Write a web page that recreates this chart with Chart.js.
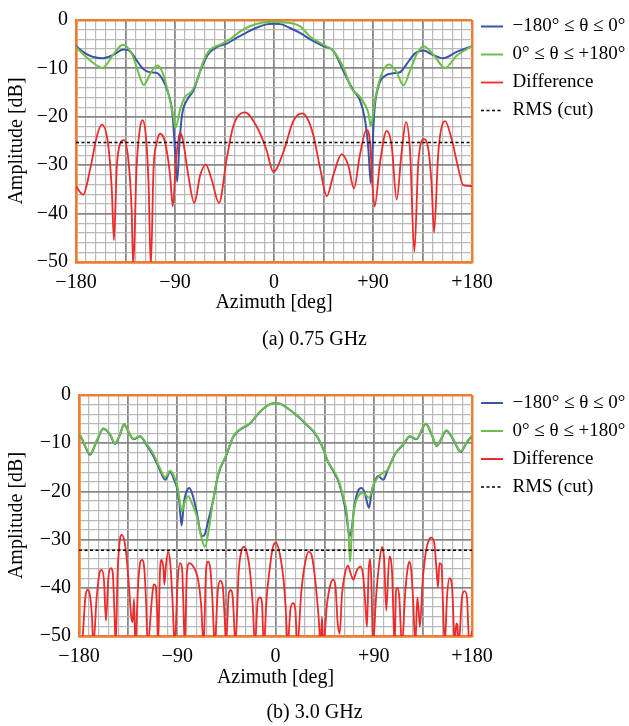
<!DOCTYPE html>
<html lang="en">
<head>
<meta charset="utf-8">
<title>Azimuth cuts</title>
<script src="https://cdn.jsdelivr.net/npm/chart.js@4.4.1/dist/chart.umd.min.js"></script>
<style>
  html, body { margin: 0; padding: 0; background: #ffffff; }
  #figure { position: relative; width: 629px; height: 726px; overflow: hidden; background: #ffffff; }
  #figure canvas { position: absolute; left: 0; }
</style>
</head>
<body>
<div id="figure">
  <canvas id="cut075" width="629" height="355" style="top:0px"></canvas>
  <canvas id="cut300" width="629" height="351" style="top:375px"></canvas>
</div>
<script>
// ---------- labels ----------
const seriesNames = ['−180° ≤ θ ≤ 0°', '0° ≤ θ ≤ +180°', 'Difference', 'RMS (cut)'];
const xTickValues = [-180, -90, 0, 90, 180];
const xTickText = ['−180', '−90', '0', '+90', '+180'];
const yTickValues = [0, -10, -20, -30, -40, -50];
const yTickText = ['0', '−10', '−20', '−30', '−40', '−50'];
const captions = ['(a) 0.75 GHz', '(b) 3.0 GHz'];

// ---------- 0.75 GHz cut: [azimuth deg, amplitude dB] ----------
const neg075 = [[-180,-5.4],[-173,-6.7],[-165,-7.6],[-156,-7.9],[-146,-7.2],[-137,-6.1],[-131,-6.4],[-125,-8.3],
  [-119,-10.1],[-113,-10.8],[-107,-10.9],[-101,-12.4],[-96,-15.2],[-92.5,-19],[-90.5,-25],[-88,-33.4],[-86,-25.5],
  [-83.5,-19.5],[-79,-16.5],[-73,-14.5],[-67,-10.5],[-60,-7.1],[-52,-5.6],[-43,-4.9],[-34,-3.7],[-25,-2.6],[-16,-1.6],
  [-7,-0.9],[0,-0.75],[7,-0.9],[15,-1.7],[24,-2.7],[33,-4.0],[45,-5.4],[54,-6.4],[63,-10.5],[72,-14.5],[78,-16.5],
  [82.7,-20.6],[85.8,-26.7],[88,-33.7],[89.5,-27],[91,-19.5],[94.8,-13.8],[101,-11.5],[108.5,-11],[114.5,-10.8],
  [120.6,-9.1],[128.2,-6.9],[135.8,-6.3],[143.3,-7.1],[153.9,-7.9],[166,-6.6],[180,-5.4]];
const pos075 = [[-180,-5.6],[-170,-7.8],[-161,-9.4],[-156,-9.9],[-146,-7.1],[-137.5,-5.1],[-129,-7.1],[-123,-11.1],
  [-118.5,-13.4],[-111,-10.5],[-105.5,-9.4],[-101,-11.1],[-96,-15.2],[-91.5,-19.9],[-89.5,-22.3],[-85.5,-18.6],
  [-81,-15.9],[-75,-14.8],[-70,-12.5],[-64,-8.4],[-58,-6.1],[-49,-5.1],[-40,-4],[-31,-2.4],[-22,-1.3],[-10,-0.5],
  [0,-0.35],[10,-0.5],[23.6,-1.3],[32.7,-3.4],[44.8,-5.1],[54,-6.4],[63,-9.8],[70.6,-14.2],[76.7,-15.5],[81.2,-16.9],
  [85.8,-19.2],[88,-21.9],[91.8,-16.5],[97.9,-11.1],[104.8,-9.2],[111.5,-10.8],[117.6,-13.5],[123.6,-10.5],
  [129.7,-7.1],[135.8,-5.4],[144.8,-7.1],[155.5,-9.9],[166,-7.4],[180,-5.4]];
const diff075 = [[-180,-34.4],[-173.5,-36.1],[-167,-30.7],[-161,-24],[-156.5,-21.6],[-151,-25.3],[-147.5,-34.8],
  [-145.5,-45.5],[-143,-30.7],[-140,-25.6],[-136.5,-24.8],[-132.5,-28.7],[-129.5,-38.8],[-128,-51],[-125,-30.7],
  [-122,-22.6],[-119.5,-20.7],[-116.5,-24],[-114,-34.1],[-112,-51],[-109.5,-30.7],[-106.5,-25.3],[-103.5,-23.5],
  [-99,-25.3],[-94.5,-32],[-92,-38.5],[-89,-28.7],[-85.5,-23.3],[-83,-24.6],[-78,-32],[-72.5,-37.8],[-67,-32],
  [-62,-29.9],[-57,-32.7],[-50,-37.8],[-43,-28.7],[-37,-21.9],[-26.5,-19.1],[-16,-21.9],[-7,-26.7],[-0.5,-31.4],
  [8.5,-27.3],[17.5,-20.9],[25.5,-19.3],[30,-20.2],[36,-24],[42,-30.7],[48,-36.4],[54,-32],[61.5,-27.7],[67.5,-30],
  [72.7,-34.8],[78,-28],[84,-22.7],[87.3,-25.3],[89.7,-34.8],[91.5,-38.5],[96.4,-29.4],[102.4,-22.9],[107,-26],
  [111.5,-37.1],[116,-27.3],[120,-21.1],[123.6,-26.7],[127.6,-47.9],[131.2,-29.4],[136.4,-24.6],[140.3,-26.7],
  [143.3,-34.1],[145.5,-43.9],[149.4,-27.3],[155.5,-20.9],[161.5,-24.6],[167.6,-30.7],[172,-34.1],[180,-34.3]];
const rms075 = [[-180,-25.3],[180,-25.3]];

// ---------- 3.0 GHz cut: [azimuth deg, amplitude dB] ----------
const neg300 = [[-180,-8.4],[-178.5,-8.6],[-174.5,-10.6],[-170,-12.4],[-163.8,-9.6],[-157.7,-7.0],[-151.6,-8.2],
  [-147,-10.1],[-142.4,-8.2],[-138.8,-6.1],[-134.8,-7.6],[-130.2,-9.2],[-124.1,-8.6],[-118,-10.4],[-112,-12.6],
  [-105.8,-15.6],[-101.2,-17.6],[-96.5,-16],[-93,-17.5],[-90,-19.5],[-88,-22.5],[-86,-27.1],[-84,-22.5],[-81.5,-20],
  [-79,-19.3],[-76,-20.7],[-72,-24.5],[-69,-28.3],[-67.3,-29.3],[-65,-29],[-61.5,-26],[-57,-21.7],[-52.4,-16.5],
  [-44.7,-12.3],[-38.6,-8.6],[-32.5,-7.2],[-23.3,-5.9],[-14.2,-3.5],[-5,-1.9],[0.5,-1.7],[5,-1.9],[12,-2.9],
  [22.4,-4.8],[28.5,-6.2],[36,-7.9],[42,-10.3],[48.4,-14],[53,-15.8],[57.6,-17.9],[62,-21.5],[65,-25],[67,-28.5],
  [68.5,-29.2],[70,-27.5],[72,-23.5],[75.8,-19.8],[78.9,-19.3],[82,-20.5],[85.6,-23.4],[88,-20.3],[90.2,-18.4],
  [94,-16.8],[98.7,-17.6],[102.4,-15.8],[109.4,-12.3],[117,-10.3],[123,-8.6],[129,-9.2],[137.7,-6.0],[143,-8.2],
  [147.5,-10.6],[156.6,-7.4],[162.7,-9.2],[169.7,-11.8],[175,-9.9],[180,-8.5]];
const pos300 = [[-180,-8.3],[-178.5,-8.5],[-174.5,-10.5],[-170,-12.2],[-163.8,-9.5],[-157.7,-6.9],[-151.6,-8.1],
  [-147,-10],[-142.4,-8.1],[-138.8,-6.0],[-134.8,-7.5],[-130.2,-9.1],[-124.1,-8.5],[-118,-10.2],[-112,-12.2],
  [-105.8,-15.2],[-101.2,-17.1],[-96.5,-15.7],[-93,-16.8],[-90,-18.8],[-88,-21.5],[-86,-24.1],[-83,-22.2],[-80,-21],
  [-76.5,-22.5],[-72.2,-25.1],[-67.6,-29.8],[-64.6,-31.5],[-61.5,-28.5],[-57,-21.7],[-52.4,-16.3],[-44.7,-12.2],
  [-38.6,-8.5],[-32.5,-7.1],[-23.3,-5.8],[-14.2,-3.4],[-5,-1.9],[0.5,-1.7],[5,-1.9],[12,-2.9],[22.4,-4.7],
  [28.5,-6.1],[36,-7.8],[42,-10.2],[48.4,-13.9],[53,-15.6],[57.6,-17.6],[62,-21],[65.2,-24.4],[67,-29],[68.3,-34.6],
  [69.8,-29],[71.5,-24.5],[75.8,-21],[80.4,-20.3],[85.6,-21.3],[90.2,-18.3],[97.2,-16.3],[102.4,-15.6],[109.4,-12.2],
  [117,-10.2],[123,-8.5],[129,-9.1],[137.7,-5.9],[143,-8.1],[147.5,-10.5],[156.6,-7.3],[162.7,-9.1],[169.7,-11.7],
  [175,-9.8],[180,-8.4]];
const diff300 = [[-180,-56],[-176.6,-50],[-174.2,-42],[-172.1,-40.4],[-169.9,-41.7],[-168.1,-46.1],[-166.9,-52],
  [-163.8,-42],[-160.8,-36.6],[-159.2,-36.3],[-157.1,-38.6],[-155.3,-46.8],[-153.1,-37.9],[-151,-35.9],[-149.2,-36.6],
  [-147.6,-44.7],[-146.4,-52],[-144.6,-36.6],[-142.4,-29.8],[-140.9,-29],[-138.5,-30.2],[-136.3,-33.9],[-133.9,-40.7],
  [-132.1,-46.1],[-130.8,-47.1],[-129.6,-42.3],[-128.4,-52],[-126,-40],[-123.8,-34.6],[-122.3,-34.2],[-120.2,-36],
  [-118.6,-42.7],[-117.1,-52],[-113.1,-42],[-111.6,-39.3],[-109.8,-39.6],[-108.5,-44.7],[-107.6,-52],[-105.8,-36.6],
  [-104.3,-34.2],[-102.7,-35.9],[-101.8,-39.3],[-100.3,-35.2],[-98.2,-32.5],[-96.3,-35.2],[-94.2,-43.3],[-92.4,-52],
  [-89.6,-38.6],[-87.5,-34.9],[-85.6,-36],[-84.4,-43.3],[-83.2,-52],[-81.1,-36.6],[-78.9,-34.9],[-75.3,-35.6],
  [-71.3,-37.9],[-68.2,-43.3],[-65.8,-52],[-63.7,-36.6],[-61.8,-34.6],[-59.7,-36],[-57.6,-43.3],[-55.7,-52],
  [-52.9,-40.7],[-50.5,-38.5],[-48.4,-39.6],[-46.6,-46.1],[-45.3,-52],[-42.9,-41.4],[-41.1,-40.5],[-39.2,-42],
  [-38,-46.8],[-36.8,-52],[-33.7,-36.6],[-31,-32.2],[-29.2,-31.5],[-26.4,-32.5],[-23.4,-36.6],[-20.9,-43.3],
  [-18.8,-52],[-16.3,-42.7],[-13.9,-42],[-12.4,-43],[-10.8,-52],[-8.1,-42],[-5.6,-36.6],[-2.6,-31.8],[0.5,-30.6],
  [4.4,-33.5],[7.5,-38.6],[9.6,-45.4],[11.1,-52],[13.6,-44.7],[16,-43.2],[18.2,-44.7],[20,-52],[23.7,-40.7],
  [27.3,-34.6],[30.4,-32.5],[33.4,-33.5],[36.5,-38.6],[39.5,-46.1],[41.4,-52],[42.6,-46.1],[43.8,-52],[47.2,-43.4],
  [50.2,-39.4],[52.7,-38.3],[54.8,-39.4],[57,-47.4],[58.8,-49.5],[60.9,-41.4],[63.4,-37.3],[66.4,-35.4],[69.2,-37.3],
  [71.3,-38.3],[74.1,-36.6],[77.7,-35.6],[80.2,-37.3],[82.3,-43.3],[83.8,-48.1],[85.3,-36.6],[86.6,-34],[87.8,-38.6],
  [89.3,-52],[92.1,-42],[95,-35],[97.6,-31.5],[99.5,-34],[101.5,-44.7],[104.3,-33.5],[106.7,-36.6],[109.2,-52],
  [110.4,-40.7],[111.9,-40],[113.4,-42],[115.8,-52],[118.9,-40.7],[121,-36],[122.6,-34.6],[124.4,-36.6],[126.2,-43.3],
  [128.1,-52],[129.9,-42],[131.1,-44.7],[132.3,-48.1],[134.8,-38.6],[137.3,-33.2],[140.3,-30.2],[142.8,-29.6],
  [145.5,-30.8],[147.6,-36.6],[148.9,-39.9],[150.1,-34.9],[152,-35.2],[153.4,-43.3],[155,-52],[157.1,-42],[159.3,-38],
  [161.7,-39.7],[163.2,-47.4],[164.1,-52],[165.6,-47.4],[166.5,-47.6],[167.8,-52],[170.8,-42],[173.2,-40.7],
  [175.4,-42],[177.5,-52],[180,-49]];
const rms300 = [[-180,-32.2],[180,-32.2]];

// ---------- styling ----------
const FONT = 'Liberation Serif';
const ORANGE = '#ed7d31';
const MAJOR = '#888888';
const MINOR = '#b9b9b9';
const seriesColors = ['#3a55a5', '#6cc04a', '#ee2a2a', '#000000'];

function tickLabel(value, values, texts) {
  const i = values.indexOf(Math.round(value));
  return i >= 0 ? texts[i] : '';
}
function gridKind(value, majorStep, edges) {
  const v = Math.round(value * 1000) / 1000;
  if (edges.includes(v)) return 'edge';
  if (v % majorStep === 0) return 'major';
  return 'minor';
}
const kindColor = { edge: ORANGE, major: MAJOR, minor: MINOR };
const kindWidth = { edge: 2.5, major: 1.8, minor: 1.2 };
const toPoints = arr => arr.map(([x, y]) => ({ x, y }));

// legend entries keep each dataset's dash pattern on the short line sample
function legendItems(chart) {
  return Chart.defaults.plugins.legend.labels.generateLabels(chart).map(item => {
    const ds = chart.data.datasets[item.datasetIndex];
    return Object.assign(item, { lineDash: ds.borderDash || [], lineWidth: ds.borderWidth });
  });
}

function makeChart(id, caption, sets, lay) {
  const datasets = sets.map((arr, i) => ({
    label: seriesNames[i],
    data: toPoints(arr),
    borderColor: seriesColors[i],
    backgroundColor: seriesColors[i],
    borderWidth: i === 3 ? 1.5 : (i === 2 ? 1.8 : 2),
    borderDash: i === 3 ? [3, 2.5] : [],
    pointRadius: 0,
    fill: false,
    cubicInterpolationMode: 'monotone',
    clip: 0,
    order: [3, 2, 1, 0][i]
  }));
  return new Chart(document.getElementById(id), {
    type: 'line',
    data: { datasets },
    options: {
      responsive: false,
      animation: false,
      devicePixelRatio: 1,
      events: [],
      layout: { padding: { top: lay.padTop, left: 0, right: 0, bottom: lay.padBottom } },
      scales: {
        x: {
          type: 'linear', min: -180, max: 180,
          ticks: {
            stepSize: 9, autoSkip: false, maxRotation: 0, padding: lay.xTickPad, color: '#000',
            font: { family: FONT, size: 20 },
            callback: v => tickLabel(v, xTickValues, xTickText)
          },
          grid: {
            drawTicks: false,
            color: c => kindColor[gridKind(c.tick.value, 45, [-180, 180])],
            lineWidth: c => kindWidth[gridKind(c.tick.value, 45, [-180, 180])]
          },
          border: { display: true, color: ORANGE, width: 2.5 },
          title: {
            display: true, text: 'Azimuth [deg]', color: '#000',
            font: { family: FONT, size: 20, lineHeight: '24px' },
            padding: { top: 0, bottom: lay.xTitlePad }
          },
          afterFit: s => { s.height = lay.xAxisHeight; }
        },
        y: {
          type: 'linear', min: -50, max: 0,
          ticks: {
            stepSize: 2, autoSkip: false, padding: 8, color: '#000',
            font: { family: FONT, size: 20 },
            callback: v => tickLabel(v, yTickValues, yTickText)
          },
          grid: {
            drawTicks: false,
            color: c => kindColor[gridKind(c.tick.value, 10, [0, -50])],
            lineWidth: c => kindWidth[gridKind(c.tick.value, 10, [0, -50])]
          },
          border: { display: true, color: ORANGE, width: 2.5 },
          title: {
            display: true, text: 'Amplitude [dB]', color: '#000',
            font: { family: FONT, size: 20, lineHeight: '24px' },
            padding: { top: lay.yTitlePad, bottom: 0 }
          },
          afterFit: s => { s.width = lay.yAxisWidth; }
        }
      },
      plugins: {
        legend: {
          display: true, position: 'right', align: 'start', maxWidth: 157,
          labels: {
            usePointStyle: true, pointStyle: 'line', pointStyleWidth: 22,
            padding: 9, color: '#000',
            font: { family: FONT, size: 19 },
            generateLabels: legendItems,
            sort: (a, b) => a.datasetIndex - b.datasetIndex
          }
        },
        subtitle: {
          display: true, position: 'top', text: '', padding: 0,
          font: { size: 1, lineHeight: lay.spacer + 'px' }
        },
        title: {
          display: true, position: 'bottom', text: caption, color: '#000', padding: 0,
          font: { family: FONT, size: 20, weight: 'normal', lineHeight: '24px' }
        },
        tooltip: { enabled: false }
      }
    }
  });
}

makeChart('cut075', captions[0], [neg075, pos075, diff075, rms075],
  { padTop: 8, spacer: 7, padBottom: 3, xAxisHeight: 66, xTickPad: 9, xTitlePad: 13, yTitlePad: 4.3, yAxisWidth: 76 });
makeChart('cut300', captions[1], [neg300, pos300, diff300, rms300],
  { padTop: 9.5, spacer: 5.5, padBottom: 1, xAxisHeight: 65, xTickPad: 9, xTitlePad: 11, yTitlePad: 4.5, yAxisWidth: 79 });
</script>
</body>
</html>
